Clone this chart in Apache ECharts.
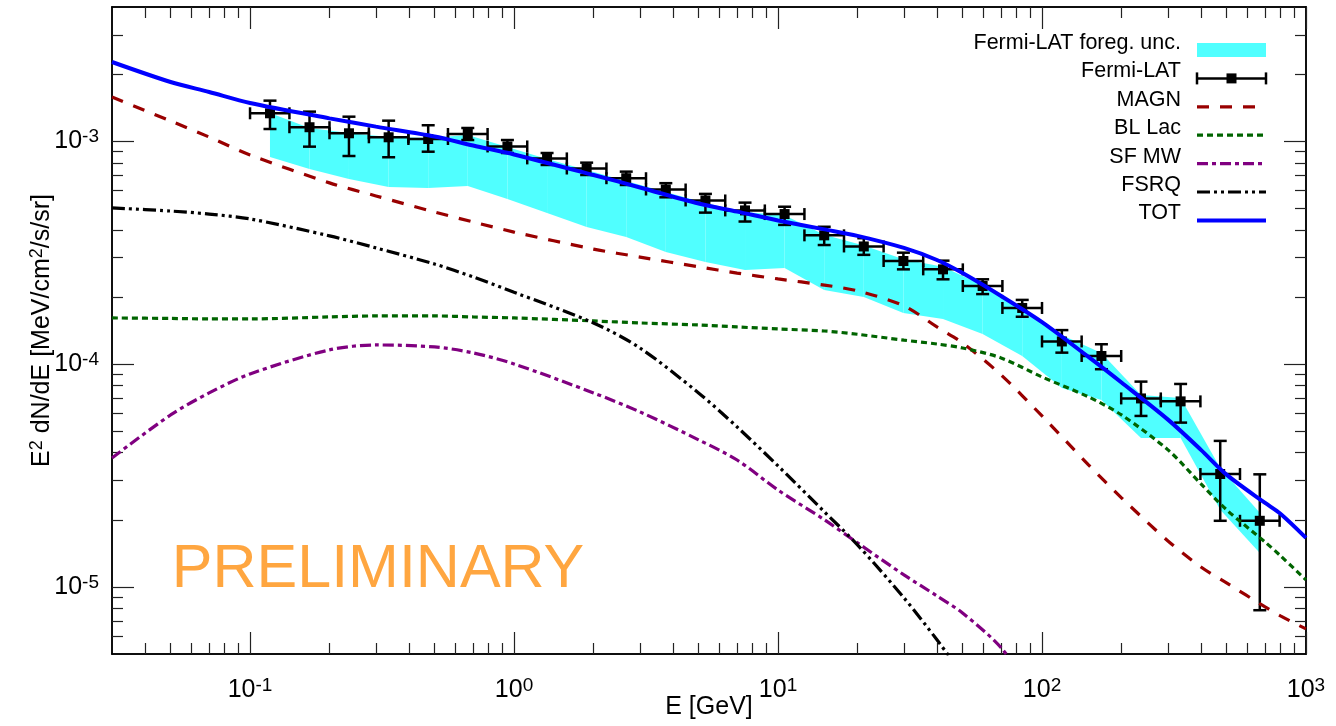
<!DOCTYPE html>
<html><head><meta charset="utf-8">
<script src="https://cdn.jsdelivr.net/npm/echarts@6/dist/echarts.min.js"></script>
<style>html,body{margin:0;padding:0;background:#fff}#c{width:1336px;height:726px}</style>
</head><body><div id="c"></div>
<script>
// ---------------- data ----------------
// Fermi-LAT data points: bin centres, bin edges (GeV), flux and error bars
const fermiE    = [0.119, 0.168, 0.237, 0.335, 0.473, 0.668, 0.944, 1.334, 1.884, 2.661, 3.758, 5.309, 7.499, 10.59, 14.96, 21.13, 29.85, 42.17, 59.57, 84.14, 118.9, 167.9, 237.1, 335.0, 473.2, 668.3];
const fermiEmin = [0.100, 0.141, 0.200, 0.282, 0.398, 0.562, 0.794, 1.122, 1.585, 2.239, 3.162, 4.467, 6.310, 8.913, 12.59, 17.78, 25.12, 35.48, 50.12, 70.79, 100.0, 141.3, 199.5, 281.8, 398.1, 562.3];
const fermiEmax = [0.141, 0.200, 0.282, 0.398, 0.562, 0.794, 1.122, 1.585, 2.239, 3.162, 4.467, 6.310, 8.913, 12.59, 17.78, 25.12, 35.48, 50.12, 70.79, 100.0, 141.3, 199.5, 281.8, 398.1, 562.3, 794.3];
const fermiFlux = [1.334e-3, 1.155e-3, 1.085e-3, 1.041e-3, 1.023e-3, 1.077e-3, 9.47e-4, 8.37e-4, 7.54e-4, 6.82e-4, 6.07e-4, 5.42e-4, 4.89e-4, 4.71e-4, 3.78e-4, 3.37e-4, 2.90e-4, 2.66e-4, 2.24e-4, 1.785e-4, 1.263e-4, 1.087e-4, 7.01e-5, 6.80e-5, 3.21e-5, 1.98e-5];
const fermiHi   = [1.520e-3, 1.357e-3, 1.288e-3, 1.236e-3, 1.179e-3, 1.146e-3, 1.012e-3, 8.85e-4, 8.01e-4, 7.30e-4, 6.48e-4, 5.80e-4, 5.30e-4, 5.08e-4, 4.13e-4, 3.67e-4, 3.16e-4, 2.91e-4, 2.40e-4, 1.94e-4, 1.42e-4, 1.227e-4, 8.34e-5, 8.14e-5, 4.52e-5, 3.20e-5];
const fermiLo   = [1.134e-3, 9.45e-4, 8.58e-4, 8.47e-4, 8.97e-4, 1.012e-3, 8.85e-4, 7.82e-4, 7.05e-4, 6.36e-4, 5.60e-4, 4.78e-4, 4.36e-4, 4.21e-4, 3.42e-4, 3.09e-4, 2.66e-4, 2.40e-4, 2.06e-4, 1.63e-4, 1.125e-4, 9.48e-5, 5.85e-5, 5.46e-5, 1.98e-5, 7.86e-6];

// Fermi-LAT foreground uncertainty band (at the bin centres)
const bandHigh = [1.338e-3, 1.146e-3, 1.088e-3, 1.044e-3, 1.034e-3, 1.066e-3, 9.42e-4, 8.32e-4, 7.43e-4, 6.63e-4, 5.92e-4, 5.28e-4, 4.81e-4, 4.65e-4, 3.80e-4, 3.40e-4, 2.95e-4, 2.73e-4, 2.26e-4, 1.785e-4, 1.351e-4, 1.122e-4, 7.27e-5, 7.05e-5, 3.42e-5, 2.15e-5];
const bandLow  = [8.49e-4, 7.50e-4, 6.77e-4, 6.23e-4, 6.17e-4, 6.30e-4, 5.50e-4, 4.76e-4, 4.12e-4, 3.72e-4, 3.18e-4, 2.87e-4, 2.64e-4, 2.70e-4, 2.15e-4, 2.00e-4, 1.696e-4, 1.594e-4, 1.365e-4, 1.087e-4, 7.81e-5, 6.90e-5, 4.66e-5, 4.66e-5, 2.22e-5, 1.42e-5];

// model curves on a common energy grid (GeV)
const modelE = [0.03, 0.05, 0.07, 0.1, 0.2, 0.3, 0.5, 0.7, 1, 2, 3, 5, 7, 10, 15, 20, 30, 40, 50, 70, 100, 150, 200, 300, 400, 500, 700, 800, 1000];
const magn  = [1.579e-3, 1.232e-3, 1.044e-3, 8.68e-4, 6.50e-4, 5.68e-4, 4.81e-4, 4.34e-4, 3.91e-4, 3.28e-4, 3.02e-4, 2.73e-4, 2.56e-4, 2.41e-4, 2.26e-4, 2.13e-4, 1.823e-4, 1.467e-4, 1.244e-4, 8.93e-5, 5.85e-5, 3.53e-5, 2.51e-5, 1.608e-5, 1.229e-5, 1.042e-5, 8.13e-6, 7.41e-6, 6.48e-6];
const blLac = [1.610e-4, 1.602e-4, 1.594e-4, 1.594e-4, 1.627e-4, 1.644e-4, 1.644e-4, 1.627e-4, 1.610e-4, 1.561e-4, 1.529e-4, 1.497e-4, 1.467e-4, 1.437e-4, 1.407e-4, 1.360e-4, 1.280e-4, 1.230e-4, 1.181e-4, 1.065e-4, 8.75e-5, 7.12e-5, 5.91e-5, 4.12e-5, 2.90e-5, 2.22e-5, 1.59e-5, 1.38e-5, 1.075e-5];
const sfMW  = [3.79e-5, 5.91e-5, 7.42e-5, 9.03e-5, 1.157e-4, 1.218e-4, 1.193e-4, 1.122e-4, 1.001e-4, 7.42e-5, 6.10e-5, 4.57e-5, 3.71e-5, 2.72e-5, 2.00e-5, 1.576e-5, 1.132e-5, 9.11e-6, 7.64e-6, 5.33e-6, 3.0e-6, null, null, null, null, null, null, null, null];
const fsrq  = [5.02e-4, 4.86e-4, 4.71e-4, 4.48e-4, 3.76e-4, 3.32e-4, 2.81e-4, 2.46e-4, 2.10e-4, 1.529e-4, 1.18e-4, 7.42e-5, 5.22e-5, 3.49e-5, 2.17e-5, 1.544e-5, 8.93e-6, 5.79e-6, 4.03e-6, null, null, null, null, null, null, null, null, null, null];
const tot   = [2.266e-3, 1.843e-3, 1.662e-3, 1.484e-3, 1.266e-3, 1.162e-3, 1.050e-3, 9.56e-4, 8.72e-4, 7.05e-4, 6.20e-4, 5.25e-4, 4.83e-4, 4.41e-4, 4.02e-4, 3.76e-4, 3.32e-4, 2.93e-4, 2.56e-4, 2.02e-4, 1.542e-4, 1.076e-4, 8.26e-5, 5.63e-5, 4.12e-5, 3.19e-5, 2.38e-5, 2.13e-5, 1.66e-5];

// axis ticks
const xMajorTicks = [0.1, 1, 10, 100, 1000];
const xMinorTicks = [0.04, 0.05, 0.06, 0.07, 0.08, 0.09, 0.2, 0.3, 0.4, 0.5, 0.6, 0.7, 0.8, 0.9, 2, 3, 4, 5, 6, 7, 8, 9, 20, 30, 40, 50, 60, 70, 80, 90, 200, 300, 400, 500, 600, 700, 800, 900];
const yMajorTicks = [1e-5, 1e-4, 1e-3];
const yMinorTicks = [6e-6, 7e-6, 8e-6, 9e-6, 2e-5, 3e-5, 4e-5, 5e-5, 6e-5, 7e-5, 8e-5, 9e-5, 2e-4, 3e-4, 4e-4, 5e-4, 6e-4, 7e-4, 8e-4, 9e-4, 2e-3, 3e-3];

const legendNames = ['Fermi-LAT foreg. unc.', 'Fermi-LAT', 'MAGN', 'BL Lac', 'SF MW', 'FSRQ', 'TOT'];

// ---------------- chart ----------------
const FONT = "'Liberation Sans', Arial, Helvetica, sans-serif";
const C = {band: '#50FFFF', magn: '#990000', bl: '#006400', sf: '#800080', fsrq: '#000000', tot: '#0000FF'};
const DASH = {magn: [12, 11], bl: [6, 4], sf: [11, 4, 4, 4], fsrq: [13, 4, 3, 4, 3, 4]};

const supRich = {
  b: {fontFamily: FONT, fontSize: 25, color: '#000', lineHeight: 28},
  s: {fontFamily: FONT, fontSize: 19, color: '#000', lineHeight: 10, verticalAlign: 'top'}
};
function powLabel(v) { return '{b|10}{s|' + Math.round(Math.log10(v)) + '}'; }

function xAx(pos, ticks, len, label) {
  return {
    type: 'log', logBase: 10, min: 0.03, max: 1000, position: pos,
    axisLine: {show: true, onZero: false, lineStyle: {color: '#000', width: 1.5}},
    axisTick: {show: true, inside: true, length: len, customValues: ticks, lineStyle: {color: '#222', width: 1.2}},
    axisLabel: label ? {show: true, customValues: ticks, formatter: powLabel, rich: supRich, margin: 22, showMinLabel: true, showMaxLabel: true} : {show: false},
    splitLine: {show: false}, minorTick: {show: false}, minorSplitLine: {show: false},
    name: label ? 'E [GeV]' : '', nameLocation: 'middle', nameGap: 39, nameMoveOverlap: false,
    nameTextStyle: {fontFamily: FONT, fontSize: 25, color: '#000', lineHeight: 28}
  };
}
function yAx(pos, ticks, len, label) {
  return {
    type: 'log', logBase: 10, min: 5e-6, max: 4e-3, position: pos,
    axisLine: {show: true, onZero: false, lineStyle: {color: '#000', width: 1.5}},
    axisTick: {show: true, inside: true, length: len, customValues: ticks, lineStyle: {color: '#222', width: 1.2}},
    axisLabel: label ? {show: true, customValues: ticks, formatter: powLabel, rich: supRich, margin: 13, showMinLabel: true, showMaxLabel: true} : {show: false},
    splitLine: {show: false}, minorTick: {show: false}, minorSplitLine: {show: false},
    name: label ? 'E{s|2} dN/dE [MeV/cm{s|2}/s/sr]' : '', nameLocation: 'middle', nameGap: 56, nameRotate: 90, nameMoveOverlap: false,
    nameTextStyle: {fontFamily: FONT, fontSize: 25, color: '#000', lineHeight: 28,
      rich: {s: {fontFamily: FONT, fontSize: 18, color: '#000', lineHeight: 12, verticalAlign: 'top'}}}
  };
}

function curve(arr) {
  const out = [];
  modelE.forEach((e, i) => { if (arr[i] != null) out.push([e, arr[i]]); });
  return out;
}
function lineSeries(name, arr, color, width, dash, z) {
  return {
    type: 'line', name: name, data: curve(arr), xAxisIndex: 0, yAxisIndex: 0,
    showSymbol: false, symbol: 'none', smooth: 0.3, clip: true, z: z, silent: true,
    lineStyle: {color: color, width: width, type: dash || 'solid', cap: 'butt'}
  };
}

const bandData = fermiE.map((e, i) => [e, bandLow[i], bandHigh[i]]);
const pointData = fermiE.map((e, i) => [e, fermiFlux[i], fermiEmin[i], fermiEmax[i], fermiLo[i], fermiHi[i]]);

const option = {
  animation: false,
  backgroundColor: '#fff',
  grid: {left: 112, right: 30, top: 7, bottom: 72, containLabel: false, outerBoundsMode: 'none'},
  xAxis: [xAx('bottom', xMajorTicks, 22, true), xAx('bottom', xMinorTicks, 11, false),
          xAx('top', xMajorTicks, 22, false), xAx('top', xMinorTicks, 11, false)],
  yAxis: [yAx('left', yMajorTicks, 22, true), yAx('left', yMinorTicks, 11, false),
          yAx('right', yMajorTicks, 22, false), yAx('right', yMinorTicks, 11, false)],
  series: [
    {
      type: 'custom', name: 'Fermi-LAT foreg. unc.', xAxisIndex: 0, yAxisIndex: 0, z: 1, silent: true,
      dimensions: ['E', 'low', 'high'], encode: {x: 0, y: [1, 2]},
      data: bandData,
      renderItem: function (params, api) {
        const i = params.dataIndexInside;
        if (i >= params.dataInsideLength - 1) return null;
        const e0 = api.value(0, i), e1 = api.value(0, i + 1);
        const p = [
          api.coord([e0, api.value(2, i)]), api.coord([e1, api.value(2, i + 1)]),
          api.coord([e1, api.value(1, i + 1)]), api.coord([e0, api.value(1, i)])
        ];
        return {type: 'polygon', shape: {points: p}, style: {fill: C.band, stroke: null}};
      }
    },
    {
      type: 'custom', name: 'Fermi-LAT', xAxisIndex: 0, yAxisIndex: 0, z: 3, silent: true,
      dimensions: ['E', 'flux', 'Emin', 'Emax', 'lo', 'hi'], encode: {x: 0, y: 1},
      data: pointData,
      renderItem: function (params, api) {
        const x = api.value(0), y = api.value(1);
        const c = api.coord([x, y]);
        const xl = api.coord([api.value(2), y])[0], xh = api.coord([api.value(3), y])[0];
        const yl = api.coord([x, api.value(4)])[1], yh = api.coord([x, api.value(5)])[1];
        const st = {stroke: '#000', lineWidth: 2.5, fill: null};
        const L = (x1, y1, x2, y2) => ({type: 'line', shape: {x1, y1, x2, y2}, style: st});
        return {type: 'group', children: [
          L(xl, c[1], xh, c[1]), L(xl, c[1] - 6, xl, c[1] + 6), L(xh, c[1] - 6, xh, c[1] + 6),
          L(c[0], yl, c[0], yh), L(c[0] - 6.5, yl, c[0] + 6.5, yl), L(c[0] - 6.5, yh, c[0] + 6.5, yh),
          {type: 'rect', shape: {x: c[0] - 5, y: c[1] - 5, width: 10, height: 10}, style: {fill: '#000', stroke: null}}
        ]};
      }
    },
    lineSeries('MAGN', magn, C.magn, 3.2, DASH.magn, 4),
    lineSeries('BL Lac', blLac, C.bl, 3.2, DASH.bl, 4),
    lineSeries('SF MW', sfMW, C.sf, 3.2, DASH.sf, 4),
    lineSeries('FSRQ', fsrq, C.fsrq, 3.2, DASH.fsrq, 4),
    lineSeries('TOT', tot, C.tot, 4, null, 5)
  ],
  graphic: []
};

// legend (drawn manually to mimic the gnuplot key)
(function () {
  const g = [];
  const x0 = 1197, x1 = 1266, tx = 1181, step = 28.4, base = 50;
  legendNames.forEach((n, k) => {
    const sy = base + k * step;
    g.push({type: 'text', x: tx, y: sy - 7, silent: true,
      style: {text: n, fontFamily: FONT, fontSize: 21.5, fill: '#000', align: 'right', verticalAlign: 'middle', textAlign: 'right', textVerticalAlign: 'middle'}});
  });
  const y = k => base + k * step;
  g.push({type: 'rect', shape: {x: x0, y: y(0) - 7, width: x1 - x0, height: 14}, style: {fill: C.band}, silent: true});
  const st = {stroke: '#000', lineWidth: 2.5};
  const xm = (x0 + x1) / 2, yy = y(1);
  g.push({type: 'line', shape: {x1: x0, y1: yy, x2: x1, y2: yy}, style: st, silent: true});
  g.push({type: 'line', shape: {x1: x0, y1: yy - 6, x2: x0, y2: yy + 6}, style: st, silent: true});
  g.push({type: 'line', shape: {x1: x1, y1: yy - 6, x2: x1, y2: yy + 6}, style: st, silent: true});
  g.push({type: 'rect', shape: {x: xm - 5, y: yy - 5, width: 10, height: 10}, style: {fill: '#000'}, silent: true});
  const lines = [[C.magn, DASH.magn, 3.2], [C.bl, DASH.bl, 3.2], [C.sf, DASH.sf, 3.2], [C.fsrq, DASH.fsrq, 3.2], [C.tot, null, 4]];
  lines.forEach((l, j) => {
    const yv = y(j + 2);
    g.push({type: 'line', shape: {x1: x0, y1: yv, x2: x1, y2: yv}, silent: true,
      style: {stroke: l[0], lineWidth: l[2], lineDash: l[1] || null}});
  });
  g.push({type: 'text', x: 378, y: 570, silent: true,
    style: {text: 'PRELIMINARY', fontFamily: FONT, fontSize: 61, fill: '#FFA640', align: 'center', verticalAlign: 'middle', textAlign: 'center', textVerticalAlign: 'middle'}});
  option.graphic = g;
})();

const chart = echarts.init(document.getElementById('c'), null, {renderer: 'canvas'});
chart.setOption(option);
</script>
</body></html>
